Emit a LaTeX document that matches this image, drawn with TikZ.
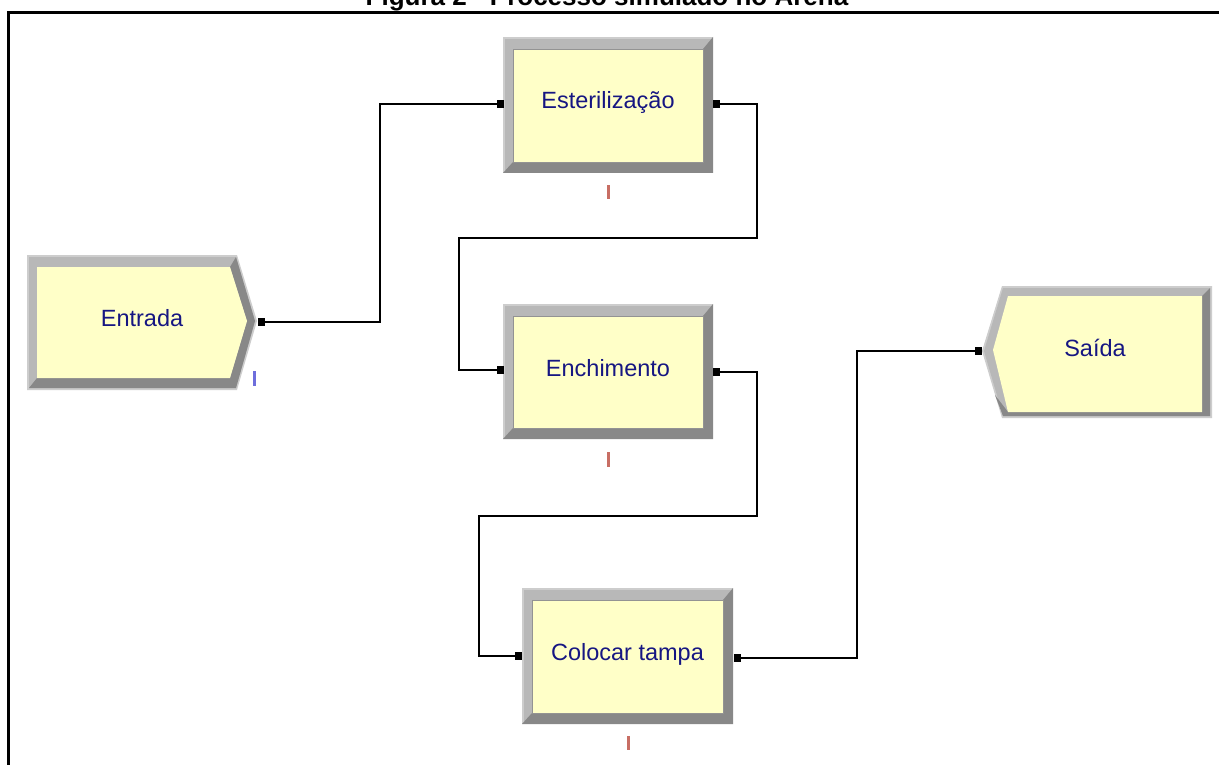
\documentclass[tikz,border=0pt]{standalone}
\usepackage{fontspec}
\setmainfont{Liberation Sans}
\usetikzlibrary{calc}
\definecolor{yel}{RGB}{255,255,200}
\definecolor{lbev}{RGB}{184,184,184}
\definecolor{lbevedge}{RGB}{205,205,205}
\definecolor{dbev}{RGB}{136,136,136}
\definecolor{txtblue}{RGB}{22,22,130}
\definecolor{qred}{RGB}{200,110,100}
\definecolor{qblue}{RGB}{110,110,220}
\tikzset{
  lbl/.style={text=txtblue,font=\fontsize{23.5}{28}\selectfont,inner sep=0pt},
  conn/.style={draw=black,line width=2.3pt},
  port/.style={fill=black},
  ttl/.style={font=\bfseries\fontsize{26}{30}\selectfont,inner sep=0pt,anchor=base},
}
% process box: name, x1, y1, x2, y2, text, text y
\newcommand\arenaproc[7]{%
  \fill[lbevedge] (#2,#3) rectangle (#4,#5);
  \fill[lbev] (#2+2,#3+2) rectangle (#4-2,#5-2);
  \fill[dbev] (#4,#3) -- (#4,#5) -- (#2,#5) -- (#2+10,#5-11) -- (#4-10,#5-11) -- (#4-10,#3+12) -- cycle;
  \fill[yel] (#2+10,#3+12) rectangle (#4-10,#5-11);
  \draw[lbev!80!black,line width=0.6pt] (#2+10,#3+12) rectangle (#4-10,#5-11);
  \node[lbl] (#1) at ({(#2+#4)/2},#7) {#6};
}
\begin{document}
\begin{tikzpicture}[x=1pt,y=-1pt]
\useasboundingbox (0,0) rectangle (1219,765);
\clip (0,0) rectangle (1219,765);
\fill[white] (0,0) rectangle (1219,765);
% title and frame
\node[ttl] (title) at (607,6) {Figura 2 - Processo simulado no Arena};
\draw[line width=3pt] (8,800) -- (8,12.5) -- (1240,12.5);

% Entrada (create module, chevron on right)
\fill[lbevedge] (27,255) -- (237,255) -- (257,321) -- (237,390) -- (27,390) -- cycle;
\fill[lbev] (29,257) -- (236,257) -- (255,321) -- (236,388) -- (29,388) -- cycle;
\fill[dbev] (236,257) -- (255,321) -- (236,388) -- (29,388) -- (37,378) -- (230,378) -- (247,321) -- (230,267) -- cycle;
\fill[yel] (37,267) -- (230,267) -- (247,321) -- (230,378) -- (37,378) -- cycle;
\node[lbl] (entrada) at (142,318) {Entrada};

% Saida (dispose module, chevron on left)
\fill[lbevedge] (982,351) -- (1002,286) -- (1212,286) -- (1212,418) -- (1002,418) -- cycle;
\fill[lbev] (984,351) -- (1003,288) -- (1210,288) -- (1210,416) -- (1003,416) -- cycle;
\fill[dbev] (1210,288) -- (1210,416) -- (1003,416) -- (995,395) -- (1008,412) -- (1202,412) -- (1202,296) -- cycle;
\fill[yel] (993,350) -- (1008,296) -- (1202,296) -- (1202,412) -- (1008,412) -- cycle;
\node[lbl] (saida) at (1095,348) {Saída};

% process modules
\arenaproc{ester}{503}{37}{713}{173}{Esterilização}{102}
\arenaproc{ench}{503}{304}{713}{439}{Enchimento}{368}
\arenaproc{tampa}{522}{588}{733}{724}{Colocar tampa}{654}

% queue markers
\fill[qred] (606.5,185) rectangle (609.5,199);
\fill[qred] (606.5,452) rectangle (609.5,467);
\fill[qred] (626.5,736) rectangle (629.5,750);
\fill[qblue] (252.5,371) rectangle (255.5,386);

% ports
\coordinate (entrada-out) at (261,322);
\coordinate (ester-in) at (500,104);
\coordinate (ester-out) at (716,104);
\coordinate (ench-in) at (500,370);
\coordinate (ench-out) at (716,372);
\coordinate (tampa-in) at (518,656);
\coordinate (tampa-out) at (737,658);
\coordinate (saida-in) at (978,351);

% connectors
\draw[conn] (entrada-out) -| (380,104) -- (ester-in);
\draw[conn] (ester-out) -| (757,238) -| (459,370) -- (ench-in);
\draw[conn] (ench-out) -| (757,516) -| (479,656) -- (tampa-in);
\draw[conn] (tampa-out) -| (857,351) -- (saida-in);

% port markers
\foreach \p in {entrada-out,ester-in,ester-out,ench-in,ench-out,tampa-in,tampa-out,saida-in}
  \fill[port] ($(\p)+(-3.5,-4)$) rectangle ($(\p)+(3.5,4)$);
\end{tikzpicture}
\end{document}
